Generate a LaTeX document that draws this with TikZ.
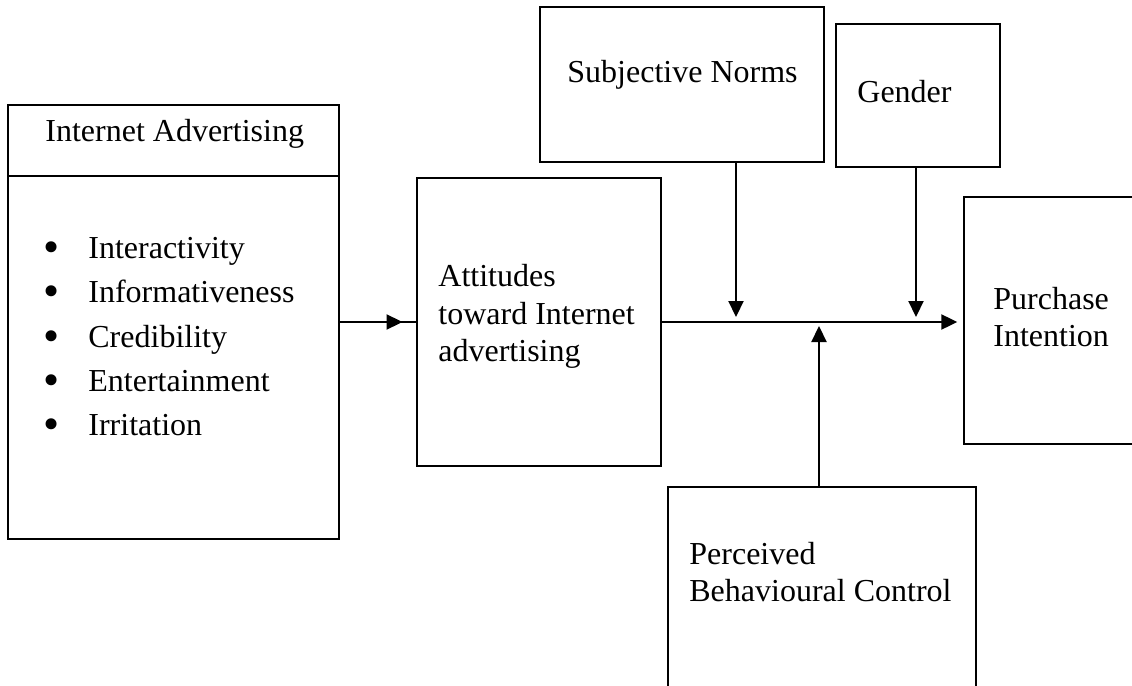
\documentclass[tikz,border=0pt]{standalone}
\usepackage{fontspec}
\setmainfont{Liberation Serif}
\usetikzlibrary{arrows.meta,decorations.markings}

\newcommand{\bulletitem}{\makebox[22.5pt][l]{\raisebox{-2pt}{\fontsize{23}{23}\selectfont\textbullet}}}

\begin{document}
\begin{tikzpicture}[x=0.5pt,y=-0.5pt,
		every node/.style={font=\fontsize{16}{18.75}\selectfont},
		blk/.style={draw,line width=0.7pt,inner sep=0pt},
		lbl/.style={anchor=west,inner sep=0pt,align=left},
		arr/.style={line width=1.1pt,-{Triangle[length=8pt,width=7.5pt]}},
		midarr/.style={line width=1.1pt,postaction={decorate},
			decoration={markings,mark=at position 0.82 with {\arrow{Triangle[length=8pt,width=7.5pt]}}}}]
				\clip (0,0) rectangle (1132,686);
				\fill[white] (0,0) rectangle (1132,686);
				% boxes
				\node[blk,minimum width=165.5pt,minimum height=35.5pt] (iahead) at (173.5,140.5) {};
				\node[blk,minimum width=165.5pt,minimum height=181.5pt] (iabody) at (173.5,357.5) {};
				\node[blk,minimum width=122pt,minimum height=144pt] (att) at (539,322) {};
				\node[blk,minimum width=142pt,minimum height=77.5pt] (sn) at (682,84.5) {};
				\node[blk,minimum width=82pt,minimum height=71.5pt] (gender) at (918,95.5) {};
				\node[blk,minimum width=96pt,minimum height=123.5pt] (pi) at (1060,320.5) {};
				\node[blk,minimum width=154pt,minimum height=106.5pt] (pbc) at (822,593.5) {};
				% texts
				\node[lbl] (tia) at (45,134) {Internet Advertising};
				\node[lbl,font=\fontsize{16}{22.1}\selectfont] (tlist) at (43,338.5) {%
					\bulletitem Interactivity\\
					\bulletitem Informativeness\\
					\bulletitem Credibility\\
					\bulletitem Entertainment\\
					\bulletitem Irritation};
				\node[lbl] (tatt) at (438,316.5) {Attitudes\\toward Internet\\advertising};
				\node[lbl] (tsn) at (567,75) {Subjective Norms};
				\node[lbl] (tg) at (857,92) {Gender};
				\node[lbl] (tpi) at (993,317) {Purchase\\Intention};
				\node[lbl] (tpbc) at (689,572) {Perceived\\Behavioural Control};
				% arrows
				\coordinate (jsn) at (736,317);
				\coordinate (jg) at (916,317);
				\coordinate (jp) at (819,326);
				\draw[midarr] (iabody.east |- att.west) -- (att.west);
				\draw[arr,shorten >=3pt] (att.east) -- (att.east -| pi.west);
				\draw[arr] (sn.south -| jsn) -- (jsn);
				\draw[arr] (gender.south -| jg) -- (jg);
				\draw[arr] (pbc.north -| jp) -- (jp);

		\end{tikzpicture}
\end{document}
